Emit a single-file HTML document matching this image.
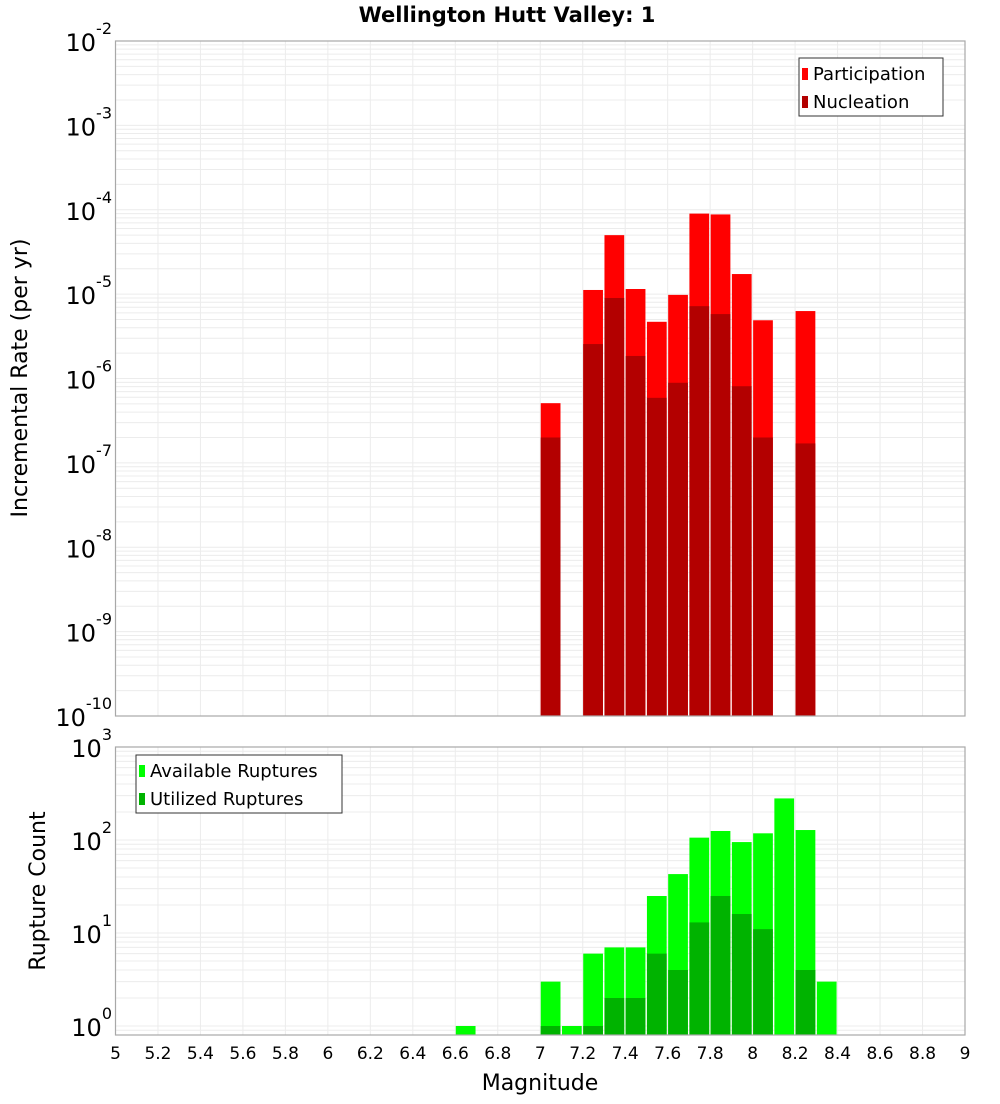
<!DOCTYPE html>
<html><head><meta charset="utf-8"><style>
body{margin:0;background:#fff;font-family:"DejaVu Sans","Liberation Sans",sans-serif;}
svg text{font-family:"DejaVu Sans","Liberation Sans",sans-serif;}
</style></head><body>
<svg id="c" width="1000" height="1100" xmlns="http://www.w3.org/2000/svg">
<text x="507" y="22" text-anchor="middle" font-size="21" font-weight="bold">Wellington Hutt Valley: 1</text>
</svg>
<script>
const mags = [7.0,7.2,7.3,7.4,7.5,7.6,7.7,7.8,7.9,8.0,8.2];
const participation = [5.1e-7,1.12e-5,5.0e-5,1.15e-5,4.7e-6,9.8e-6,9.0e-5,8.8e-5,1.73e-5,4.9e-6,6.3e-6];
const nucleation = [2.0e-7,2.56e-6,9.0e-6,1.85e-6,5.9e-7,8.9e-7,7.2e-6,5.8e-6,8.1e-7,2.0e-7,1.7e-7];
const countMags = [6.6,7.0,7.1,7.2,7.3,7.4,7.5,7.6,7.7,7.8,7.9,8.0,8.1,8.2,8.3];
const available = [1,3,1,6,7,7,25,43,106,125,95,118,280,128,3];
const utilMags = [7.0,7.2,7.3,7.4,7.5,7.6,7.7,7.8,7.9,8.0,8.2];
const utilized = [1,1,2,2,6,4,13,25,16,11,4];
const xTicks = [5,5.2,5.4,5.6,5.8,6,6.2,6.4,6.6,6.8,7,7.2,7.4,7.6,7.8,8,8.2,8.4,8.6,8.8,9];
const rateExps = [-10,-9,-8,-7,-6,-5,-4,-3,-2];
const countExps = [0,1,2,3];

const svg = document.getElementById('c');
const NS = 'http://www.w3.org/2000/svg';
function mk(tag, attrs, parent){const e=document.createElementNS(NS,tag);for(const k in attrs)e.setAttribute(k,attrs[k]);(parent||svg).appendChild(e);return e;}
const X0=115.5,X1=965;
const xs = m => X0 + (m-5)*(X1-X0)/4;
const P1={top:41,bot:716};
const y1 = v => P1.bot - (Math.log10(v)+10)*(P1.bot-P1.top)/8;
const P2={top:747,bot:1035};
const y2 = v => 1026 - Math.log10(v)*93;

function grid(top,bot,yf,lo,hi){
  const g=mk('g',{});
  
  
  for(let m=5;m<=9.001;m+=0.2){const x=xs(m);mk('line',{x1:x,x2:x,y1:top,y2:bot,stroke:'#ececec','stroke-width':1},g);}
  for(let e=lo;e<=hi;e++){for(let k=1;k<10;k++){const y=yf(k*Math.pow(10,e));if(y<top||y>bot)continue;mk('line',{x1:X0,x2:X1,y1:y,y2:y,stroke:'#ececec','stroke-width':1},g);}}
}
grid(P1.top,P1.bot,y1,-10,-2);
grid(P2.top,P2.bot,y2,-1,3);

const bw=(X1-X0)/40;
function bars(ms,vals,yf,base,color,name){
  ms.forEach((m,i)=>{const x=xs(m)+0.5,y=yf(vals[i]);
    const r=mk('rect',{x:x,y:y,width:bw-1.5,height:base-y,fill:color});
    
    });
}
bars(mags,participation,y1,P1.bot,'#ff0000','participation-bar');
bars(mags,nucleation,y1,P1.bot,'#b30000','nucleation-bar');
bars(countMags,available,y2,P2.bot,'#00ff00','available-bar');
bars(utilMags,utilized,y2,P2.bot,'#00b300','utilized-bar');

[P1,P2].forEach((p,i)=>{const r=mk('rect',{x:X0,y:p.top,width:X1-X0,height:p.bot-p.top,fill:'none',stroke:'#a8a8a8','stroke-width':1.2});
  
  });

function ylab(exps,yf,name){
  exps.forEach(e=>{const y=yf(Math.pow(10,e));
    const t=mk('text',{x:112,y:y+10,'text-anchor':'end','font-size':24});
    
    
    t.appendChild(document.createTextNode('10'));
    const s=mk('tspan',{dy:-17,'font-size':16},t);s.textContent=String(e);});
}
ylab(rateExps,y1,'rate-tick-label');
ylab(countExps,y2,'count-tick-label');

xTicks.forEach(m=>{const t=mk('text',{x:xs(m),y:1059,'text-anchor':'middle','font-size':17});
  
  
  t.textContent=String(m);});

function legend(x,y,w,items,name){
  const g=mk('g',{});
  
  
  mk('rect',{x:x,y:y,width:w,height:58,fill:'#fff',stroke:'#333','stroke-width':1},g);
  items.forEach((it,i)=>{mk('rect',{x:x+3,y:y+10+i*28,width:6,height:12,fill:it[1]},g);
    const t=mk('text',{x:x+14,y:y+22+i*28,'font-size':18},g);t.textContent=it[0];});
}
legend(799,58,144,[['Participation','#ff0000'],['Nucleation','#b30000']],'rate-legend');
legend(136,755,206,[['Available Ruptures','#00ff00'],['Utilized Ruptures','#00b300']],'count-legend');

let t=mk('text',{x:27,y:378,'text-anchor':'middle','font-size':22,transform:'rotate(-90 27 378)'});
t.textContent='Incremental Rate (per yr)';
t=mk('text',{x:45,y:891,'text-anchor':'middle','font-size':22,transform:'rotate(-90 45 891)'});
t.textContent='Rupture Count';
t=mk('text',{x:540,y:1090,'text-anchor':'middle','font-size':22});
t.textContent='Magnitude';
</script>
</body></html>
